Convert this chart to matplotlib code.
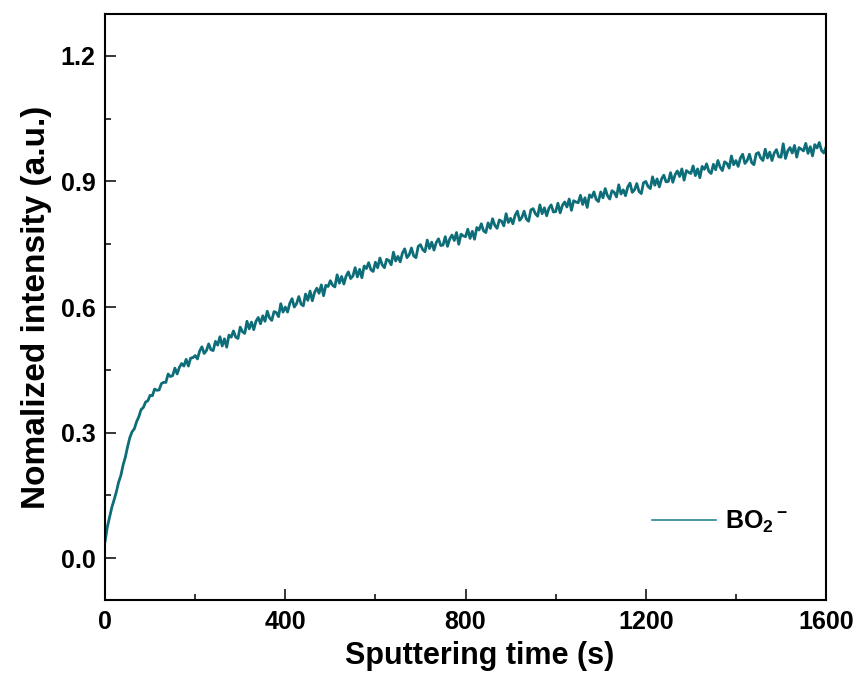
import numpy as np
import matplotlib
matplotlib.use("Agg")
import matplotlib.pyplot as plt
from matplotlib.ticker import MultipleLocator, FormatStrFormatter

plt.rcParams["font.family"] = ["Liberation Sans", "DejaVu Sans"]
plt.rcParams["font.weight"] = "bold"
plt.rcParams["mathtext.fontset"] = "custom"
plt.rcParams["mathtext.rm"] = "Liberation Sans:bold"
plt.rcParams["mathtext.it"] = "Liberation Sans:bold"
plt.rcParams["mathtext.bf"] = "Liberation Sans:bold"

# sputtering time, one reading every 5 s
time_s = np.arange(0, 1601, 5)

# BO2- normalized intensity (10 readings per row = 50 s)
bo2 = [
    0.040, 0.074, 0.098, 0.121, 0.139, 0.158, 0.181, 0.197, 0.222, 0.241,
    0.266, 0.288, 0.302, 0.309, 0.326, 0.338, 0.355, 0.360, 0.373, 0.376,
    0.389, 0.388, 0.404, 0.401, 0.402, 0.417, 0.420, 0.420, 0.440, 0.434,
    0.436, 0.454, 0.440, 0.456, 0.465, 0.459, 0.475, 0.459, 0.478, 0.479,
    0.484, 0.476, 0.495, 0.505, 0.489, 0.496, 0.512, 0.498, 0.496, 0.518,
    0.509, 0.529, 0.507, 0.524, 0.504, 0.533, 0.528, 0.543, 0.528, 0.525,
    0.552, 0.541, 0.537, 0.566, 0.548, 0.564, 0.546, 0.566, 0.575, 0.560,
    0.579, 0.566, 0.590, 0.574, 0.568, 0.589, 0.587, 0.577, 0.608, 0.588,
    0.600, 0.588, 0.609, 0.620, 0.600, 0.608, 0.625, 0.607, 0.603, 0.631,
    0.616, 0.638, 0.615, 0.635, 0.645, 0.633, 0.653, 0.627, 0.652, 0.649,
    0.663, 0.652, 0.648, 0.677, 0.657, 0.673, 0.655, 0.674, 0.684, 0.668,
    0.674, 0.694, 0.672, 0.690, 0.670, 0.698, 0.692, 0.706, 0.689, 0.685,
    0.707, 0.694, 0.717, 0.701, 0.694, 0.714, 0.711, 0.701, 0.731, 0.710,
    0.721, 0.708, 0.729, 0.739, 0.718, 0.725, 0.741, 0.722, 0.718, 0.745,
    0.749, 0.737, 0.732, 0.760, 0.740, 0.755, 0.736, 0.754, 0.763, 0.747,
    0.748, 0.768, 0.745, 0.763, 0.772, 0.759, 0.778, 0.750, 0.774, 0.770,
    0.768, 0.786, 0.764, 0.781, 0.762, 0.790, 0.784, 0.799, 0.782, 0.778,
    0.801, 0.788, 0.811, 0.795, 0.788, 0.808, 0.805, 0.794, 0.823, 0.802,
    0.812, 0.799, 0.819, 0.829, 0.807, 0.814, 0.829, 0.810, 0.805, 0.832,
    0.835, 0.823, 0.817, 0.844, 0.823, 0.837, 0.818, 0.836, 0.844, 0.827,
    0.828, 0.848, 0.825, 0.843, 0.851, 0.839, 0.858, 0.831, 0.854, 0.851,
    0.849, 0.867, 0.845, 0.861, 0.838, 0.868, 0.862, 0.875, 0.857, 0.852,
    0.875, 0.861, 0.883, 0.866, 0.858, 0.878, 0.874, 0.863, 0.892, 0.870,
    0.880, 0.866, 0.887, 0.896, 0.874, 0.880, 0.895, 0.876, 0.871, 0.897,
    0.900, 0.888, 0.883, 0.911, 0.891, 0.906, 0.887, 0.906, 0.915, 0.899,
    0.900, 0.921, 0.898, 0.916, 0.925, 0.912, 0.930, 0.903, 0.926, 0.922,
    0.919, 0.937, 0.914, 0.930, 0.909, 0.936, 0.929, 0.942, 0.924, 0.919,
    0.941, 0.928, 0.950, 0.934, 0.926, 0.947, 0.943, 0.932, 0.961, 0.940,
    0.950, 0.936, 0.956, 0.965, 0.943, 0.950, 0.965, 0.945, 0.940, 0.966,
    0.969, 0.956, 0.950, 0.977, 0.956, 0.970, 0.950, 0.968, 0.976, 0.959,
    0.958, 0.990, 0.955, 0.973, 0.981, 0.968, 0.986, 0.958, 0.981, 0.977,
    0.973, 0.991, 0.967, 0.983, 0.961, 0.988, 0.980, 0.993, 0.974, 0.968,
    0.982,
]

fig = plt.figure(figsize=(8.56, 6.78), dpi=100)
ax = fig.add_axes([0.1227, 0.1150, 0.8423, 0.8643])

ax.plot(time_s, bo2, color="#0d6d78", lw=2.0, label="BO$_2$$^-$")

ax.set_xlim(0, 1600)
ax.set_ylim(-0.1, 1.3)
ax.xaxis.set_major_locator(MultipleLocator(400))
ax.xaxis.set_minor_locator(MultipleLocator(200))
ax.yaxis.set_major_locator(MultipleLocator(0.3))
ax.yaxis.set_minor_locator(MultipleLocator(0.15))
ax.yaxis.set_major_formatter(FormatStrFormatter("%.1f"))

for s in ax.spines.values():
    s.set_linewidth(1.5)
ax.tick_params(which="both", direction="in", width=1.1, top=False, right=False)
ax.tick_params(which="major", length=8, labelsize=18, pad=7)
ax.tick_params(which="minor", length=4.3)

ax.set_xlabel("Sputtering time (s)", fontsize=22, fontweight="bold")
ax.xaxis.set_label_coords(0.52, -0.07)
ax.set_ylabel("Nomalized intensity (a.u.)", fontsize=24, fontweight="bold", labelpad=6)

leg = ax.legend(loc="center left", bbox_to_anchor=(0.759, 0.133), frameon=False,
                fontsize=18, handlelength=2.55, handletextpad=0.36,
                borderpad=0, borderaxespad=0)
for h in leg.get_lines():
    h.set_linewidth(1.2)
    h.set_color("#2a8892")

fig.savefig("out.png", dpi=100)
